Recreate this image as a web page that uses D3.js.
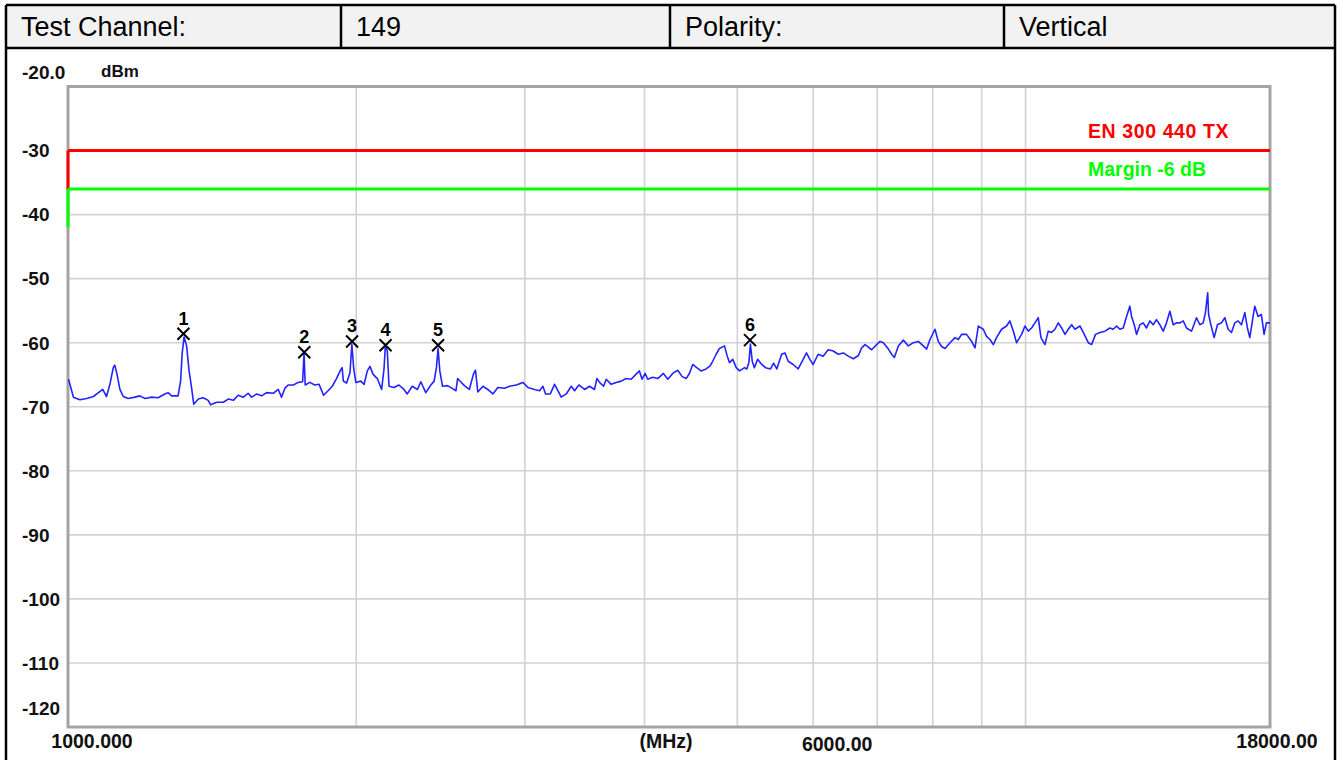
<!DOCTYPE html>
<html><head><meta charset="utf-8">
<script src="https://cdn.jsdelivr.net/npm/d3@7/dist/d3.min.js"></script>
<style>html,body{margin:0;padding:0;background:#fff;}svg{display:block;}</style>
</head><body><svg id="c" width="1338" height="760"></svg>
<script>
// ---------------- DATA ----------------
const headerTexts = ["Test Channel:", "149", "Polarity:", "Vertical"];

const yTickValues = [-20, -30, -40, -50, -60, -70, -80, -90, -100, -110, -120];
const yTickLabels = ["-20.0", "-30", "-40", "-50", "-60", "-70", "-80", "-90", "-100", "-110", "-120"];
const yUnit = "dBm";

const xGridMHz = [2000, 3000, 4000, 5000, 6000, 7000, 8000, 9000, 10000];
const xLabelValues = [1000, 6000, 18000];
const xLabelTexts = ["1000.000", "6000.00", "18000.00"];
const xUnit = "(MHz)";

const limitNames = ["EN 300 440 TX", "Margin -6 dB"];
const limitLevels = [-30, -36];
const limitColors = ["#ff0000", "#00ff00"];

const markerNums = ["1", "2", "3", "4", "5", "6"];
const markerFreq = [1320, 1765, 1980, 2146, 2435, 5155];
const markerLevel = [-58.6, -61.5, -59.8, -60.4, -60.4, -59.6];

const traceFreq = [
 1001,1006,1013,1029,1046,1063,1076,1087,1097,1106,1115,1119,1125,1133,1142,1156,1175,1188,1204,1223,
 1242,1262,1272,1283,1303,1311,1316,1322,1330,1338,1346,1353,1368,1384,1401,1409,1430,1453,1470,1488,
 1506,1524,1542,1555,1574,1593,1612,1638,1658,1671,1685,1698,1719,1740,1758,1764,1769,1789,1810,1829,
 1849,1869,1888,1906,1924,1933,1939,1954,1970,1979,1988,1998,2022,2038,2054,2067,2082,2104,2126,2138,
 2145,2155,2164,2190,2216,2243,2261,2288,2317,2336,2364,2393,2412,2425,2435,2445,2461,2491,2517,2542,
 2552,2563,2594,2625,2651,2664,2679,2712,2744,2778,2811,2857,2892,2939,2986,3022,3071,3108,3133,3153,
 3189,3222,3248,3274,3314,3354,3381,3416,3463,3505,3547,3567,3590,3625,3648,3692,3737,3782,3827,3874,
 3920,3951,3977,4006,4031,4080,4129,4186,4230,4281,4333,4379,4421,4456,4492,4535,4583,4639,4684,4713,
 4752,4790,4848,4880,4907,4946,4987,5027,5088,5116,5141,5160,5183,5210,5250,5303,5352,5415,5456,5498,
 5562,5607,5651,5719,5788,5858,5905,5953,6000,6073,6146,6221,6297,6374,6451,6530,6610,6690,6743,6798,
 6825,6907,6990,7048,7104,7190,7247,7294,7365,7454,7544,7635,7727,7820,7883,7947,8043,8107,8172,8239,
 8339,8440,8507,8575,8678,8783,8855,8926,9033,9105,9180,9253,9326,9439,9553,9631,9710,9787,9905,9986,
 10065,10146,10228,10310,10377,10477,10560,10645,10732,10818,10905,10995,11082,11171,11262,11398,11489,11628,11720,11833,
 11959,12104,12250,12347,12446,12548,12648,12749,12850,12903,12987,13059,13165,13270,13375,13485,13592,13700,13812,13923,
 14034,14149,14262,14376,14494,14609,14726,14904,15084,15207,15328,15413,15495,15530,15614,15738,15864,16017,16148,16277,
 16407,16541,16673,16806,16943,17049,17147,17283,17353,17491,17631,17746,17844,18000
];
const traceLevel = [
 -65.7,-66.8,-68.5,-68.9,-68.7,-68.4,-67.8,-67.3,-68.4,-66.5,-63.9,-63.5,-64.9,-67.3,-68.4,-68.7,-68.5,-68.3,-68.7,-68.5,
 -68.6,-68.0,-67.8,-68.3,-68.3,-66.0,-61.6,-59.1,-60.5,-64.4,-67.0,-69.6,-68.8,-68.6,-69.0,-69.7,-69.3,-69.3,-68.8,-69.0,
 -68.2,-68.5,-67.9,-68.5,-68.0,-68.3,-67.8,-67.9,-67.3,-68.5,-67.1,-66.6,-66.6,-66.2,-66.1,-61.7,-66.6,-66.2,-66.6,-66.5,
 -68.2,-67.5,-66.8,-65.7,-64.4,-63.9,-66.0,-66.3,-64.7,-60.3,-64.1,-66.2,-66.0,-66.5,-64.4,-63.7,-64.9,-65.6,-67.3,-64.1,
 -60.5,-61.3,-66.8,-67.0,-66.6,-67.3,-68.0,-66.8,-67.3,-66.1,-67.8,-66.6,-66.0,-63.9,-60.9,-64.4,-66.8,-66.7,-67.1,-67.5,
 -65.6,-65.9,-66.7,-67.3,-64.9,-64.3,-67.7,-66.8,-67.3,-68.0,-67.0,-67.1,-66.8,-66.6,-66.2,-67.0,-67.3,-67.5,-66.8,-68.0,
 -68.0,-66.5,-67.5,-68.5,-68.0,-66.8,-67.5,-66.6,-67.3,-66.8,-67.3,-65.6,-66.2,-66.8,-65.7,-66.5,-66.2,-66.0,-65.6,-65.7,
 -64.9,-64.4,-65.7,-64.8,-65.7,-65.4,-65.6,-64.8,-65.7,-64.8,-64.3,-65.3,-65.6,-64.8,-63.4,-63.9,-64.4,-64.1,-63.6,-62.9,
 -61.8,-60.9,-60.5,-62.1,-63.1,-62.6,-63.9,-64.4,-63.9,-64.1,-63.1,-60.2,-62.9,-63.9,-62.6,-63.4,-63.9,-64.1,-63.2,-64.1,
 -61.8,-61.6,-62.9,-63.4,-64.1,-62.6,-61.6,-62.6,-63.4,-61.8,-62.1,-61.1,-61.3,-61.8,-61.6,-62.1,-62.5,-62.0,-60.8,-60.3,
 -60.5,-61.1,-60.3,-59.8,-60.0,-61.0,-61.8,-62.3,-60.5,-59.6,-60.5,-60.0,-59.8,-60.5,-61.0,-59.5,-57.9,-59.8,-60.6,-60.9,
 -60.0,-59.2,-59.5,-58.7,-58.7,-59.8,-60.8,-57.4,-57.9,-59.0,-59.5,-60.3,-59.2,-57.9,-57.4,-56.6,-58.2,-60.0,-58.7,-57.4,
 -58.2,-57.7,-56.9,-56.1,-59.2,-60.3,-58.2,-58.4,-57.9,-56.9,-57.7,-58.7,-57.9,-57.2,-57.9,-57.4,-58.4,-60.0,-60.3,-58.7,
 -58.4,-58.2,-57.7,-57.9,-57.4,-57.9,-57.7,-55.9,-54.3,-55.9,-57.2,-58.7,-57.2,-56.9,-57.7,-56.6,-57.2,-56.4,-57.2,-58.2,
 -56.9,-55.1,-57.2,-56.9,-56.9,-56.6,-57.7,-58.2,-56.1,-57.2,-56.9,-55.3,-52.2,-55.6,-57.2,-59.2,-57.2,-56.9,-56.1,-57.9,
 -58.4,-56.9,-56.6,-57.2,-55.3,-57.7,-59.2,-55.9,-54.3,-55.9,-55.6,-58.7,-56.9,-56.9
];

// ---------------- LAYOUT ----------------
const W = 1338, H = 760;
const FONT = "'Liberation Sans', Arial, Helvetica, sans-serif";
const svg = d3.select("#c");
svg.append("rect").attr("width", W).attr("height", H).attr("fill", "#fff");

// header table
const cellEdges = [6, 341, 670, 1004, 1335];
const headTop = 5, headBot = 48;
svg.append("rect").attr("x", cellEdges[0]).attr("y", headTop)
  .attr("width", cellEdges[4] - cellEdges[0]).attr("height", headBot - headTop).attr("fill", "#f2f2f2");
const hdr = svg.append("g");
hdr.selectAll("text").data(headerTexts).join("text")
  .attr("x", (d, i) => cellEdges[i] + 15).attr("y", 36)
  .attr("font-family", FONT).attr("font-size", 27).attr("fill", "#000").text(d => d);
const frameG = svg.append("g").attr("stroke", "#000").attr("stroke-width", 2.5);
frameG.append("line").attr("x1", cellEdges[0]).attr("x2", cellEdges[4]).attr("y1", headTop).attr("y2", headTop);
frameG.append("line").attr("x1", cellEdges[0]).attr("x2", cellEdges[4]).attr("y1", headBot).attr("y2", headBot);
frameG.append("line").attr("x1", cellEdges[0]).attr("x2", cellEdges[0]).attr("y1", headTop).attr("y2", H);
frameG.append("line").attr("x1", cellEdges[4]).attr("x2", cellEdges[4]).attr("y1", headTop).attr("y2", H);
frameG.selectAll("line.div").data(cellEdges.slice(1, 4)).join("line").attr("class", "div")
  .attr("x1", d => d).attr("x2", d => d).attr("y1", headTop).attr("y2", headBot);

// plot scales
const px0 = 68, px1 = 1270, py0 = 86.5, py1 = 727;
const x = d3.scaleLog().domain([1000, 18000]).range([px0, px1]);
const y = d3.scaleLinear().domain([-20, -120]).range([py0, py1]);

// grid
const grid = svg.append("g").attr("stroke", "#d2d2d2").attr("stroke-width", 1.6);
grid.selectAll("line.v").data(xGridMHz).join("line").attr("class", "v")
  .attr("x1", d => x(d)).attr("x2", d => x(d)).attr("y1", py0).attr("y2", py1);
grid.selectAll("line.h").data(yTickValues.filter(v => v < -20 && v > -120)).join("line").attr("class", "h")
  .attr("x1", px0).attr("x2", px1).attr("y1", d => y(d)).attr("y2", d => y(d));

// plot frame
svg.append("rect").attr("x", px0).attr("y", py0).attr("width", px1 - px0).attr("height", py1 - py0)
  .attr("fill", "none").attr("stroke", "#a4a4a4").attr("stroke-width", 3);

// y labels
svg.append("g").selectAll("text").data(yTickValues).join("text")
  .attr("x", 22)
  .attr("y", (d, i) => y(d) + (i === 0 ? -14 : (i === yTickValues.length - 1 ? -19 : 0)))
  .attr("dy", "0.36em")
  .attr("font-family", FONT).attr("font-weight", "bold").attr("font-size", 19).attr("fill", "#111")
  .text((d, i) => yTickLabels[i]);
svg.append("text").attr("x", 101).attr("y", 77).attr("font-family", FONT).attr("font-weight", "bold")
  .attr("font-size", 17).attr("fill", "#111").text(yUnit);

// x labels
const xLabOffset = [24, 24, 7];
const xLabBase = [748, 751, 748];
svg.append("g").selectAll("text").data(xLabelValues).join("text")
  .attr("x", (d, i) => x(d) + xLabOffset[i]).attr("y", (d, i) => xLabBase[i])
  .attr("text-anchor", "middle")
  .attr("font-family", FONT).attr("font-weight", "bold").attr("font-size", 19.5).attr("fill", "#111")
  .text((d, i) => xLabelTexts[i]);
svg.append("text").attr("x", (px0 + px1) / 2 - 3).attr("y", 748).attr("text-anchor", "middle")
  .attr("font-family", FONT).attr("font-weight", "bold").attr("font-size", 19.5).attr("fill", "#111").text(xUnit);

// limit lines
const lim = svg.append("g");
const limSpacing = [0.6, 0];
limitLevels.forEach((lv, i) => {
  lim.append("line").attr("x1", px0).attr("x2", px1).attr("y1", y(lv)).attr("y2", y(lv))
    .attr("stroke", limitColors[i]).attr("stroke-width", 3);
  lim.append("line").attr("x1", px0).attr("x2", px0).attr("y1", y(lv)).attr("y2", y(lv - 6))
    .attr("stroke", limitColors[i]).attr("stroke-width", 3);
  lim.append("text").attr("x", 1088).attr("y", y(lv) - 13)
    .attr("font-family", FONT).attr("font-weight", "bold").attr("font-size", 19.5)
    .attr("letter-spacing", limSpacing[i])
    .attr("fill", limitColors[i]).text(limitNames[i]);
});

// trace
const traceData = traceFreq.map((f, i) => ({ f, v: traceLevel[i] }));
svg.append("path").datum(traceData)
  .attr("d", d3.line().x(d => x(d.f)).y(d => y(d.v)))
  .attr("fill", "none").attr("stroke", "#2323ff").attr("stroke-width", 1.6).attr("stroke-linejoin", "round");

// markers
const mk = svg.append("g").selectAll("g").data(markerFreq).join("g")
  .attr("transform", (d, i) => `translate(${x(d)},${y(markerLevel[i])})`);
mk.append("path").attr("d", "M-6,-6L6,6M-6,6L6,-6").attr("stroke", "#000").attr("stroke-width", 2).attr("fill", "none");
mk.append("text").attr("x", 0).attr("y", -9).attr("text-anchor", "middle")
  .attr("font-family", FONT).attr("font-weight", "bold").attr("font-size", 18).attr("fill", "#000")
  .text((d, i) => markerNums[i]);
</script></body></html>
